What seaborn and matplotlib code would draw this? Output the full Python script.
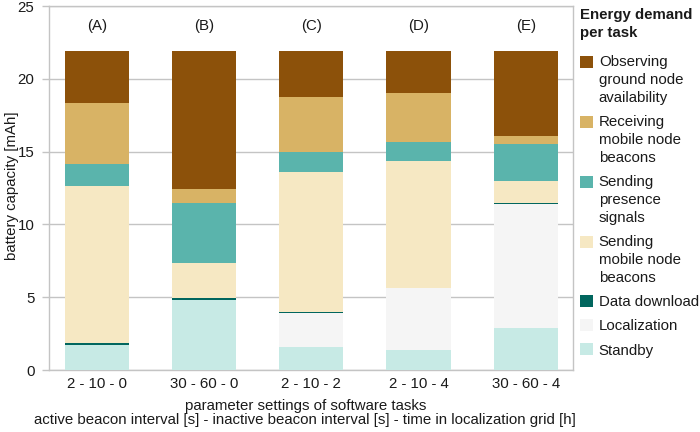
import numpy as np
import pandas as pd
import matplotlib
matplotlib.use("Agg")
import matplotlib.pyplot as plt
import seaborn as sns
from matplotlib.patches import Patch, Rectangle
from matplotlib.legend_handler import HandlerPatch

# ---------------- data ----------------
categories = ["2 - 10 - 0", "30 - 60 - 0", "2 - 10 - 2", "2 - 10 - 4", "30 - 60 - 4"]
letters = ["(A)", "(B)", "(C)", "(D)", "(E)"]

# tasks listed bottom -> top of the stack
task_labels = [
    "Standby",
    "Localization",
    "Data download",
    "Sending\nmobile node\nbeacons",
    "Sending\npresence\nsignals",
    "Receiving\nmobile node\nbeacons",
    "Observing\nground node\navailability",
]
standby = [1.75, 4.80, 1.55, 1.39, 2.88]
localization = [0.00, 0.00, 2.36, 4.21, 8.52]
data_download = [0.08, 0.12, 0.04, 0.04, 0.07]
sending_mobile = [10.79, 2.43, 9.63, 8.72, 1.49]
sending_presence = [1.51, 4.12, 1.38, 1.29, 2.54]
receiving = [4.22, 0.94, 3.78, 3.39, 0.58]
observing = [3.58, 9.52, 3.19, 2.89, 5.85]

task_colors = ["#c7eae5", "#f5f5f5", "#01665e", "#f6e8c3", "#5ab4ac", "#d8b365", "#8c510a"]

layers = [standby, localization, data_download, sending_mobile,
          sending_presence, receiving, observing]

# ---------------- style ----------------
sns.set_theme(style="white")
plt.rcParams['font.family'] = ['Liberation Sans', 'DejaVu Sans']
FS = 10.8
TXT = "#1a1a1a"
GRID = "#c4c4c4"
LSP = 1.35
PITCH_PT = 18 / 1.389  # line pitch in points

fig = plt.figure(figsize=(7, 4.32), dpi=100)
ax = fig.add_axes([49 / 700, 1 - 370 / 432, (573 - 49) / 700, (370 - 6) / 432])

# cumulative tops
tops = []
cum = np.zeros(len(categories))
for vals in layers:
    cum = cum + np.asarray(vals, dtype=float)
    tops.append(cum.copy())

# draw from the top layer down so lower layers cover upper ones
for i in reversed(range(len(layers))):
    df = pd.DataFrame({"setting": categories, "top": tops[i]})
    sns.barplot(data=df, x="setting", y="top", order=categories,
                color=task_colors[i], saturation=1, width=0.6,
                errorbar=None, linewidth=0, ax=ax, zorder=3)

ax.set_xlim(-0.445, 4.44)
ax.set_ylim(0, 25)
ax.set_yticks([0, 5, 10, 15, 20, 25])
ax.yaxis.grid(True, color=GRID, linewidth=1.0, zorder=0)
ax.set_axisbelow(True)
for side in ["left", "bottom", "right", "top"]:
    ax.spines[side].set_visible(True)
    ax.spines[side].set_color(GRID)
    ax.spines[side].set_linewidth(1.0)
ax.tick_params(axis="y", left=True, length=5, width=1.0, color=GRID,
               pad=5.5, labelsize=FS, labelcolor=TXT)
ax.tick_params(axis="x", bottom=False, length=0, pad=5,
               labelsize=FS, labelcolor=TXT)
ax.set_xlabel("")
ax.set_ylabel("")

for i, l in enumerate(letters):
    ax.text(i, 23.6, l, ha="center", va="center", fontsize=FS, color=TXT)

fig.text(12 / 700, 1 - 186 / 432, "battery capacity [mAh]", rotation=90,
         ha="center", va="center", fontsize=FS, color=TXT)
fig.text(306 / 700, 1 - 406 / 432, "parameter settings of software tasks",
         ha="center", va="center", fontsize=FS, color=TXT)
fig.text(305 / 700, 1 - 420 / 432,
         "active beacon interval [s] - inactive beacon interval [s] - time in localization grid [h]",
         ha="center", va="center", fontsize=FS, color=TXT)


class FirstLineHandler(HandlerPatch):
    """Square legend key aligned with the first line of a multi-line label."""

    def __init__(self, nlines):
        super().__init__()
        self.shift = (nlines - 1) / 2 * PITCH_PT

    def create_artists(self, legend, orig_handle, xdescent, ydescent,
                       width, height, fontsize, trans):
        p = Rectangle((-xdescent, -ydescent + self.shift), width, height,
                      facecolor=orig_handle.get_facecolor(), edgecolor="none",
                      transform=trans)
        return [p]


handles = [Patch(facecolor=task_colors[i], edgecolor="none") for i in reversed(range(len(layers)))]
labels = [task_labels[i] for i in reversed(range(len(layers)))]
hmap = {h: FirstLineHandler(lab.count("\n") + 1) for h, lab in zip(handles, labels)}
leg = fig.legend(handles, labels, loc="upper left", handler_map=hmap,
                 bbox_to_anchor=(580 / 700, 1 - 8 / 432), frameon=False,
                 title="Energy demand\nper task",
                 title_fontproperties={"weight": "bold", "size": FS},
                 alignment="left", fontsize=FS, handlelength=0.85,
                 handleheight=0.85, handletextpad=0.4, labelspacing=0.68,
                 borderpad=0, borderaxespad=0)
for t in leg.get_texts():
    t.set_color(TXT)
    t.set_linespacing(LSP)
leg.get_title().set_color(TXT)
leg.get_title().set_linespacing(LSP)
leg._legend_box.sep = 11  # gap between title and entries (points)

fig.savefig("out.png", dpi=100)
